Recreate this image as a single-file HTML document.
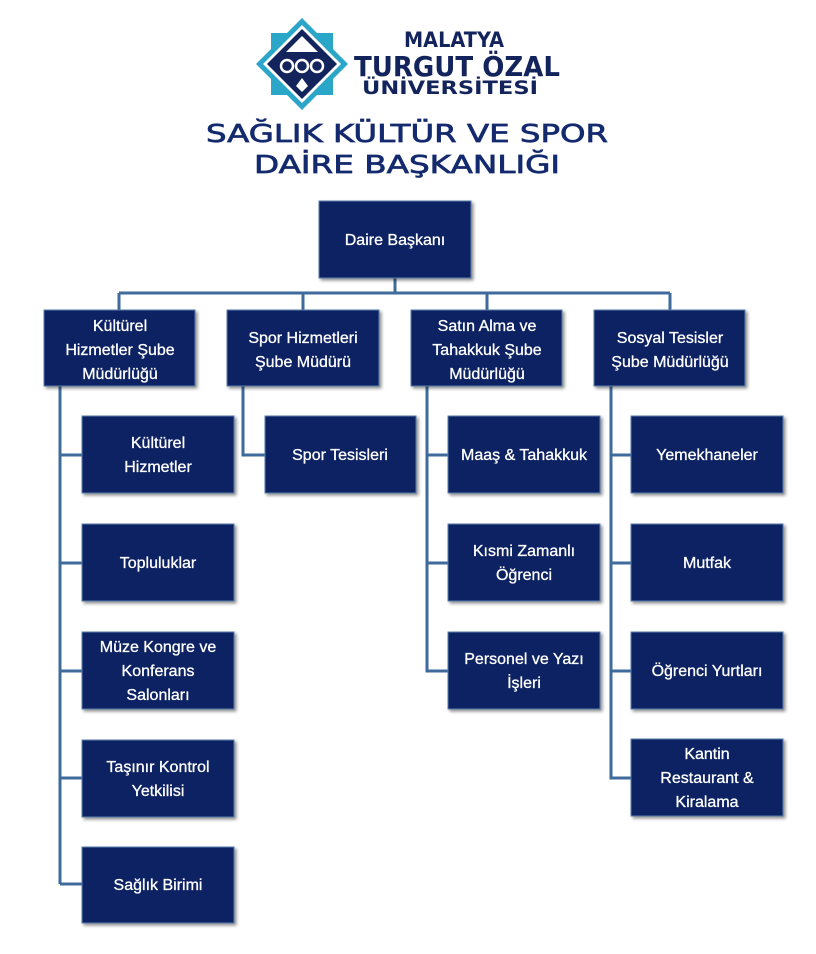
<!DOCTYPE html>
<html><head><meta charset="utf-8"><style>
html,body{margin:0;padding:0;background:#fff;}
svg{display:block}
.b{fill:#0c2462;stroke:#5a7fae;stroke-width:1;}
.t{font-family:"Liberation Sans",sans-serif;font-size:16px;fill:#fff;text-anchor:middle;stroke:#fff;stroke-width:0.3;}
.l{stroke:#3f6b9c;stroke-width:3;fill:none;}
</style></head><body>
<svg width="816" height="954" viewBox="0 0 816 954" xmlns="http://www.w3.org/2000/svg">
<defs><filter id="s" x="-10%" y="-10%" width="130%" height="130%"><feDropShadow dx="2" dy="2" stdDeviation="1.5" flood-color="#000" flood-opacity="0.45"/></filter></defs>
<!-- logo -->
<g>
<polygon points="302,18 348,64 302,110 256,64" fill="#2aa6c9"/>
<polygon points="271,33 333,33 333,95 271,95" fill="#2aa6c9"/>
<polygon points="302,25 341,64 302,103 263,64" fill="#fff"/>
<polygon points="302,29 337,64 302,99 267,64" fill="#13235c"/>
<polygon points="302,36 318,52 286,52" fill="#fff"/>
<circle cx="287" cy="66" r="6" fill="none" stroke="#fff" stroke-width="2.5"/>
<circle cx="302" cy="66" r="6" fill="none" stroke="#fff" stroke-width="2.5"/>
<circle cx="317" cy="66" r="6" fill="none" stroke="#fff" stroke-width="2.5"/>
<polygon points="302,78 308,86 302,92 296,86" fill="#fff"/>
</g>
<g font-family="'DejaVu Sans','Liberation Sans',sans-serif" font-weight="bold" fill="#13235c" text-anchor="middle">
<text x="454" y="47" font-size="21" textLength="100" lengthAdjust="spacingAndGlyphs">MALATYA</text>
<text x="457" y="76" font-size="28" textLength="206" lengthAdjust="spacingAndGlyphs">TURGUT ÖZAL</text>
<text x="450" y="94" font-size="19" textLength="176" lengthAdjust="spacingAndGlyphs">ÜNİVERSİTESİ</text>
</g>
<g font-family="'DejaVu Sans','Liberation Sans',sans-serif" fill="#142a6e" stroke="#142a6e" stroke-width="0.7" font-size="25" text-anchor="middle">
<text x="407" y="142" textLength="402" lengthAdjust="spacingAndGlyphs">SAĞLIK KÜLTÜR VE SPOR</text>
<text x="407" y="173" textLength="306" lengthAdjust="spacingAndGlyphs">DAİRE BAŞKANLIĞI</text>
</g>
<!-- connectors -->
<path class="l" d="M395 278V293M119 293H670M119 293V310M303 293V310M487 293V310M670 293V310"/>
<path class="l" d="M60 386V884M60 455H82M60 563H82M60 671H82M60 778H82M60 884H82"/>
<path class="l" d="M243 386V455H265"/>
<path class="l" d="M427 386V671H448M427 455H448M427 563H448"/>
<path class="l" d="M611 386V778H631M611 455H631M611 563H631M611 671H631"/>
<g filter="url(#s)">
<rect class="b" x="319" y="201" width="152" height="77"/>
<rect class="b" x="44" y="310" width="151" height="76"/>
<rect class="b" x="227" y="310" width="152" height="76"/>
<rect class="b" x="411" y="310" width="151" height="76"/>
<rect class="b" x="594" y="310" width="151" height="76"/>
<rect class="b" x="82" y="416" width="152" height="77"/>
<rect class="b" x="82" y="524" width="152" height="77"/>
<rect class="b" x="82" y="632" width="152" height="77"/>
<rect class="b" x="82" y="740" width="152" height="77"/>
<rect class="b" x="82" y="847" width="152" height="76"/>
<rect class="b" x="265" y="416" width="151" height="77"/>
<rect class="b" x="448" y="416" width="152" height="77"/>
<rect class="b" x="448" y="524" width="152" height="77"/>
<rect class="b" x="448" y="632" width="152" height="77"/>
<rect class="b" x="631" y="416" width="152" height="77"/>
<rect class="b" x="631" y="524" width="152" height="77"/>
<rect class="b" x="631" y="632" width="152" height="77"/>
<rect class="b" x="631" y="739" width="152" height="77"/>
</g>
<g>
<text class="t" x="395" y="245">Daire Başkanı</text>
<text class="t" x="120" y="331">Kültürel</text><text class="t" x="120" y="355">Hizmetler Şube</text><text class="t" x="120" y="379">Müdürlüğü</text>
<text class="t" x="303" y="343">Spor Hizmetleri</text><text class="t" x="303" y="367">Şube Müdürü</text>
<text class="t" x="487" y="331">Satın Alma ve</text><text class="t" x="487" y="355">Tahakkuk Şube</text><text class="t" x="487" y="379">Müdürlüğü</text>
<text class="t" x="670" y="343">Sosyal Tesisler</text><text class="t" x="670" y="367">Şube Müdürlüğü</text>
<text class="t" x="158" y="448">Kültürel</text><text class="t" x="158" y="472">Hizmetler</text>
<text class="t" x="158" y="568">Topluluklar</text>
<text class="t" x="158" y="652">Müze Kongre ve</text><text class="t" x="158" y="676">Konferans</text><text class="t" x="158" y="700">Salonları</text>
<text class="t" x="158" y="772">Taşınır Kontrol</text><text class="t" x="158" y="796">Yetkilisi</text>
<text class="t" x="158" y="890">Sağlık Birimi</text>
<text class="t" x="340" y="460">Spor Tesisleri</text>
<text class="t" x="524" y="460">Maaş &amp; Tahakkuk</text>
<text class="t" x="524" y="556">Kısmi Zamanlı</text><text class="t" x="524" y="580">Öğrenci</text>
<text class="t" x="524" y="664">Personel ve Yazı</text><text class="t" x="524" y="688">İşleri</text>
<text class="t" x="707" y="460">Yemekhaneler</text>
<text class="t" x="707" y="568">Mutfak</text>
<text class="t" x="707" y="676">Öğrenci Yurtları</text>
<text class="t" x="707" y="759">Kantin</text><text class="t" x="707" y="783">Restaurant &amp;</text><text class="t" x="707" y="807">Kiralama</text>
</g>
</svg>
</body></html>
